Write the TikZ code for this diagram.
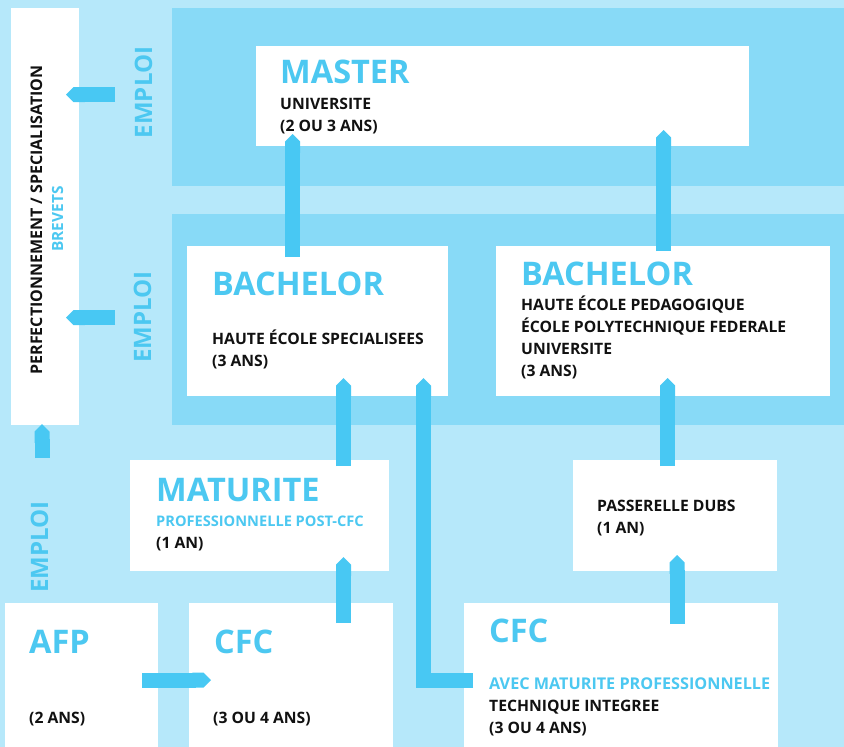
\documentclass[tikz,border=0pt]{standalone}
\usepackage{fontspec}
\setmainfont{Open Sans}
\usetikzlibrary{calc,arrows.meta}
\definecolor{bgl}{HTML}{B6E8FA}
\definecolor{bgm}{HTML}{88DAF7}
\definecolor{arrc}{HTML}{48C8F3}
\definecolor{tc}{HTML}{4CC8F1}
\definecolor{tk}{HTML}{111111}
\tikzset{
  box/.style={fill=white, draw=none, inner sep=0pt, outer sep=0pt, anchor=north west},
  arr/.style={draw=arrc, line width=15pt, -{Triangle Cap[]}},
  ttl/.style={inner sep=0pt, anchor=base west, text=tc, font=\fontsize{32.5}{36}\selectfont\bfseries},
  sub/.style={inner sep=0pt, anchor=base west, text=tk, font=\fontsize{15.7}{18}\selectfont\bfseries},
  subc/.style={sub, text=tc},
  emp/.style={inner sep=0pt, anchor=base, rotate=90, text=tc, font=\fontsize{24}{30}\selectfont\bfseries},
}
\begin{document}
\begin{tikzpicture}[x=1pt,y=-1pt]
\useasboundingbox (0,0) rectangle (844,747);
\fill[bgl] (0,0) rectangle (844,747);
\fill[bgm] (172,8) rectangle (844,186);
\fill[bgm] (172,214) rectangle (844,425);
% boxes
\node[box, minimum width=68, minimum height=417] (perf) at (11,8) {};
\node[box, minimum width=493, minimum height=100] (master) at (256,46) {};
\node[box, minimum width=261, minimum height=150] (bach1) at (187,246) {};
\node[box, minimum width=334, minimum height=150] (bach2) at (496,246) {};
\node[box, minimum width=259, minimum height=111] (matu) at (130,460) {};
\node[box, minimum width=204, minimum height=111] (pass) at (573,460) {};
\node[box, minimum width=153, minimum height=144] (afp) at (5,603) {};
\node[box, minimum width=204, minimum height=144] (cfc1) at (189,603) {};
\node[box, minimum width=314, minimum height=144] (cfc2) at (464,603) {};
% arrows
\coordinate (e1) at (115,94.5);
\coordinate (e2) at (115,317.5);
\draw[arr] (e1) -- ($(e1 -| perf.east)+(-13,0)$);
\draw[arr] (e2) -- ($(e2 -| perf.east)+(-13,0)$);
\draw[arr] ($(perf.south west)+(31,33)$) -- ($(perf.south west)+(31,-1)$);
\draw[arr] ($(afp.north east)+(-16,77)$) -- ($(cfc1.north west)+(22,77)$);
\draw[arr] ($(cfc1.north west)+(154.5,20)$) -- ($(matu.south west)+(213.5,-14)$);
\draw[arr] ($(matu.north west)+(213.5,6)$) -- ($(bach1.south west)+(156.5,-18)$);
\draw[arr] ($(cfc2.north west)+(9,77)$) -| ($(bach1.south east)+(-24.5,-18)$);
\draw[arr] ($(bach1.north west)+(105.5,11)$) -- ($(master.south west)+(36.5,-12)$);
\draw[arr] ($(bach2.north west)+(167.5,5)$) -- ($(master.south west)+(407.5,-16)$);
\draw[arr] ($(pass.north west)+(94.5,6)$) -- ($(bach2.south west)+(171.5,-18)$);
\draw[arr] ($(cfc2.north west)+(213,21)$) -- ($(pass.south west)+(104,-16)$);
% rotated texts
\node[emp] (emp1) at (152,92.5) {EMPLOI};
\node[emp] (emp2) at (151,317) {EMPLOI};
\node[emp] (emp3) at (48,547) {EMPLOI};
\node[inner sep=0pt, anchor=base, rotate=90, text=tk, font=\fontsize{16}{20}\selectfont\bfseries] (perft) at (42,220) {PERFECTIONNEMENT / SPECIALISATION};
\node[inner sep=0pt, anchor=base, rotate=90, text=tc, font=\fontsize{15.4}{18}\selectfont\bfseries] (brev) at (63,219) {BREVETS};
% master
\node[ttl] at ($(master.north west)+(24,37)$) {MASTER};
\node[sub] at ($(master.north west)+(24,63)$) {UNIVERSITE};
\node[sub] at ($(master.north west)+(24,85)$) {(2 OU 3 ANS)};
% bachelor 1
\node[ttl] at ($(bach1.north west)+(25,49)$) {BACHELOR};
\node[sub] at ($(bach1.north west)+(25,98)$) {HAUTE ÉCOLE SPECIALISEES};
\node[sub] at ($(bach1.north west)+(25,120)$) {(3 ANS)};
% bachelor 2
\node[ttl] at ($(bach2.north west)+(25,39)$) {BACHELOR};
\node[sub] at ($(bach2.north west)+(25,64)$) {HAUTE ÉCOLE PEDAGOGIQUE};
\node[sub] at ($(bach2.north west)+(25,86)$) {ÉCOLE POLYTECHNIQUE FEDERALE};
\node[sub] at ($(bach2.north west)+(25,108)$) {UNIVERSITE};
\node[sub] at ($(bach2.north west)+(25,130)$) {(3 ANS)};
% maturite
\node[ttl] at ($(matu.north west)+(26,41)$) {MATURITE};
\node[subc, font=\fontsize{14.6}{18}\selectfont\bfseries] at ($(matu.north west)+(26,66)$) {PROFESSIONNELLE POST-CFC};
\node[sub] at ($(matu.north west)+(26,88)$) {(1 AN)};
% passerelle
\node[sub] at ($(pass.north west)+(24,51)$) {PASSERELLE DUBS};
\node[sub] at ($(pass.north west)+(24,73)$) {(1 AN)};
% afp
\node[ttl] at ($(afp.north west)+(24,50)$) {AFP};
\node[sub] at ($(afp.north west)+(24,120)$) {(2 ANS)};
% cfc1
\node[ttl] at ($(cfc1.north west)+(25,50)$) {CFC};
\node[sub] at ($(cfc1.north west)+(24,120)$) {(3 OU 4 ANS)};
% cfc2
\node[ttl] at ($(cfc2.north west)+(25,39)$) {CFC};
\node[subc, font=\fontsize{16.2}{18}\selectfont\bfseries] at ($(cfc2.north west)+(25,86)$) {AVEC MATURITE PROFESSIONNELLE};
\node[sub] at ($(cfc2.north west)+(25,108)$) {TECHNIQUE INTEGREE};
\node[sub] at ($(cfc2.north west)+(25,130)$) {(3 OU 4 ANS)};
\end{tikzpicture}
\end{document}
